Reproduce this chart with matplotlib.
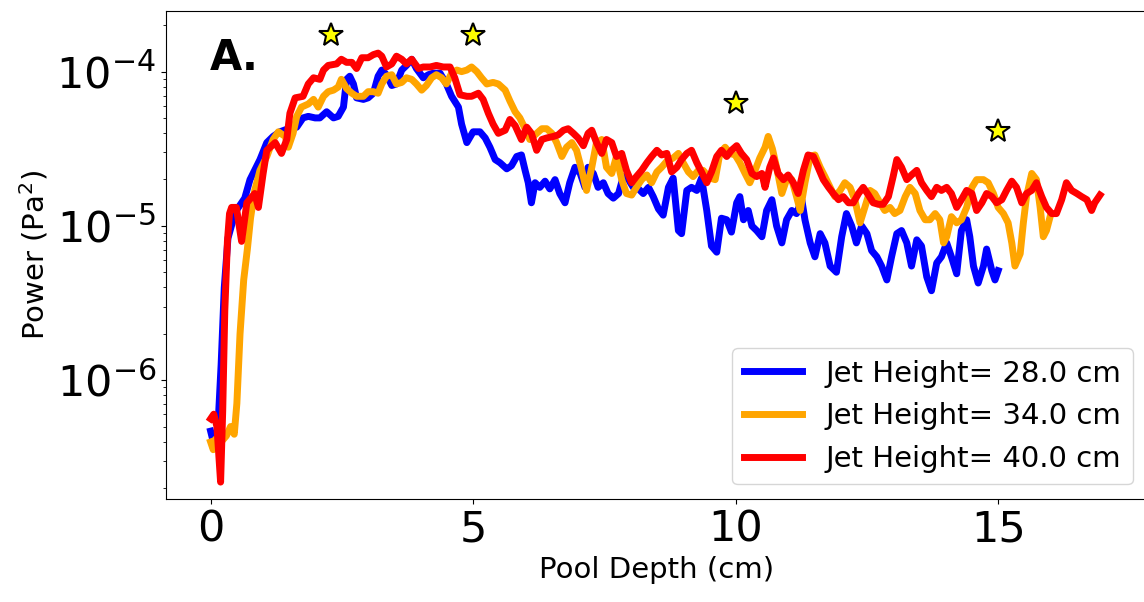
import numpy as np
import matplotlib
matplotlib.use("Agg")
import matplotlib.pyplot as plt

# Pool depth (cm) and log10 of spectral power (Pa^2) for each jet height
depth_28 = [0.00, 0.08, 0.14, 0.20, 0.26, 0.33, 0.42, 0.49, 0.55, 0.65, 0.75, 0.94, 1.07, 1.19, 1.32,
            1.48, 1.64, 1.76, 1.86, 1.99, 2.08, 2.21, 2.34, 2.43, 2.53, 2.59, 2.65, 2.72, 2.78, 2.91,
            3.00, 3.10, 3.19, 3.26, 3.35, 3.45, 3.54, 3.64, 3.73, 3.83, 3.92, 4.05, 4.15, 4.24, 4.37,
            4.49, 4.59, 4.72, 4.78, 4.88, 5.00, 5.13, 5.23, 5.32, 5.42, 5.51, 5.64, 5.73, 5.83, 5.92,
            5.99, 6.05, 6.11, 6.18, 6.27, 6.37, 6.46, 6.56, 6.65, 6.75, 6.84, 6.94, 7.04, 7.13, 7.19,
            7.29, 7.38, 7.48, 7.57, 7.67, 7.77, 7.86, 7.96, 8.05, 8.15, 8.24, 8.34, 8.43, 8.53, 8.62,
            8.72, 8.81, 8.91, 8.97, 9.07, 9.16, 9.26, 9.35, 9.45, 9.54, 9.64, 9.73, 9.83, 9.92, 10.02,
            10.08, 10.15, 10.24, 10.31, 10.40, 10.50, 10.59, 10.69, 10.78, 10.88, 10.97, 11.07, 11.16,
            11.26, 11.32, 11.42, 11.51, 11.61, 11.70, 11.80, 11.92, 12.02, 12.11, 12.21, 12.30, 12.40,
            12.50, 12.59, 12.69, 12.78, 12.88, 12.97, 13.07, 13.16, 13.26, 13.35, 13.45, 13.54, 13.64,
            13.73, 13.83, 13.92, 14.02, 14.11, 14.21, 14.30, 14.40, 14.46, 14.53, 14.62, 14.72, 14.78,
            14.88, 14.94, 15.00]
logp_28 = [-6.33, -6.44, -6.30, -5.90, -5.40, -5.08, -4.97, -4.90, -4.87, -4.82, -4.70, -4.57, -4.46,
           -4.42, -4.39, -4.37, -4.36, -4.30, -4.29, -4.30, -4.30, -4.26, -4.30, -4.29, -4.23, -4.05,
           -4.03, -4.08, -4.17, -4.18, -4.17, -4.14, -4.03, -3.99, -4.02, -4.09, -4.08, -3.99, -3.96,
           -3.92, -3.98, -4.04, -4.02, -4.01, -4.01, -4.08, -4.16, -4.23, -4.34, -4.46, -4.39, -4.39,
           -4.43, -4.49, -4.57, -4.59, -4.63, -4.61, -4.55, -4.54, -4.64, -4.72, -4.85, -4.72, -4.75,
           -4.71, -4.76, -4.70, -4.79, -4.85, -4.72, -4.62, -4.66, -4.75, -4.62, -4.66, -4.75, -4.72,
           -4.79, -4.82, -4.79, -4.68, -4.70, -4.75, -4.76, -4.79, -4.75, -4.81, -4.89, -4.93, -4.75,
           -4.69, -5.03, -5.05, -4.77, -4.75, -4.77, -4.69, -4.90, -5.13, -5.17, -4.95, -4.96, -5.04,
           -4.85, -4.81, -4.96, -4.90, -5.00, -5.03, -5.07, -4.90, -4.83, -5.00, -5.11, -4.96, -4.90,
           -4.92, -4.83, -4.96, -5.11, -5.20, -5.05, -5.11, -5.26, -5.30, -5.07, -4.92, -5.00, -5.11,
           -5.00, -5.05, -5.16, -5.20, -5.26, -5.35, -5.20, -5.05, -5.03, -5.11, -5.26, -5.09, -5.13,
           -5.33, -5.42, -5.24, -5.20, -5.11, -5.20, -5.31, -5.03, -4.96, -5.07, -5.26, -5.37, -5.26,
           -5.15, -5.29, -5.35, -5.29]

depth_34 = [0.00, 0.05, 0.10, 0.20, 0.30, 0.38, 0.45, 0.50, 0.56, 0.63, 0.70, 0.76, 0.84, 0.94, 1.07,
            1.19, 1.29, 1.42, 1.48, 1.57, 1.64, 1.73, 1.86, 1.96, 2.05, 2.15, 2.24, 2.34, 2.43, 2.49,
            2.59, 2.69, 2.78, 2.91, 3.00, 3.10, 3.19, 3.26, 3.35, 3.45, 3.54, 3.64, 3.73, 3.83, 3.92,
            4.02, 4.11, 4.21, 4.30, 4.40, 4.49, 4.59, 4.69, 4.78, 4.88, 4.97, 5.07, 5.16, 5.26, 5.38,
            5.48, 5.61, 5.70, 5.80, 5.89, 5.99, 6.08, 6.21, 6.31, 6.40, 6.50, 6.59, 6.69, 6.78, 6.88,
            6.97, 7.07, 7.16, 7.26, 7.35, 7.45, 7.54, 7.64, 7.73, 7.83, 7.92, 8.02, 8.11, 8.21, 8.31,
            8.40, 8.50, 8.59, 8.69, 8.81, 8.91, 9.00, 9.10, 9.19, 9.29, 9.38, 9.51, 9.61, 9.70, 9.80,
            9.89, 9.99, 10.08, 10.18, 10.27, 10.37, 10.46, 10.56, 10.62, 10.70, 10.78, 10.88, 10.97,
            11.07, 11.16, 11.23, 11.32, 11.42, 11.51, 11.61, 11.70, 11.80, 11.89, 11.99, 12.08, 12.18,
            12.27, 12.37, 12.46, 12.56, 12.65, 12.75, 12.84, 12.94, 13.03, 13.13, 13.23, 13.32, 13.42,
            13.51, 13.61, 13.70, 13.80, 13.89, 13.96, 14.02, 14.11, 14.21, 14.30, 14.40, 14.50, 14.59,
            14.72, 14.81, 14.91, 15.00, 15.10, 15.19, 15.26, 15.32, 15.42, 15.48, 15.54, 15.64, 15.73,
            15.80, 15.86, 15.92, 15.99]
logp_34 = [-6.40, -6.45, -6.38, -6.40, -6.36, -6.30, -6.35, -6.15, -5.70, -5.35, -5.15, -4.95, -4.77,
           -4.64, -4.55, -4.44, -4.39, -4.42, -4.49, -4.40, -4.29, -4.23, -4.21, -4.18, -4.23, -4.16,
           -4.13, -4.12, -4.10, -4.05, -4.11, -4.14, -4.16, -4.16, -4.13, -4.13, -4.14, -4.08, -4.03,
           -4.02, -4.08, -4.07, -4.04, -4.05, -4.08, -4.12, -4.09, -4.04, -4.02, -4.04, -4.08, -4.01,
           -3.99, -4.00, -3.99, -3.97, -4.00, -4.04, -4.08, -4.07, -4.08, -4.12, -4.19, -4.26, -4.30,
           -4.37, -4.44, -4.40, -4.37, -4.37, -4.40, -4.46, -4.55, -4.49, -4.46, -4.51, -4.64, -4.77,
           -4.62, -4.46, -4.44, -4.62, -4.66, -4.55, -4.70, -4.79, -4.80, -4.75, -4.70, -4.67, -4.72,
           -4.65, -4.62, -4.58, -4.56, -4.53, -4.59, -4.65, -4.68, -4.64, -4.64, -4.69, -4.70, -4.53,
           -4.49, -4.53, -4.54, -4.59, -4.66, -4.72, -4.64, -4.56, -4.49, -4.42, -4.50, -4.62, -4.79,
           -4.70, -4.70, -4.81, -4.90, -4.72, -4.55, -4.54, -4.62, -4.68, -4.75, -4.81, -4.77, -4.72,
           -4.75, -4.83, -4.98, -4.88, -4.77, -4.79, -4.85, -4.90, -4.88, -4.92, -4.90, -4.81, -4.75,
           -4.79, -4.90, -4.96, -4.96, -4.92, -4.96, -5.11, -5.07, -4.94, -4.98, -4.96, -4.88, -4.75,
           -4.70, -4.70, -4.72, -4.79, -4.88, -4.92, -4.98, -5.11, -5.26, -5.18, -4.98, -4.81, -4.66,
           -4.70, -4.88, -5.07, -5.03, -4.94]

depth_40 = [0.00, 0.06, 0.12, 0.19, 0.23, 0.27, 0.32, 0.36, 0.40, 0.49, 0.59, 0.69, 0.84, 0.91, 1.00,
            1.07, 1.23, 1.35, 1.45, 1.51, 1.61, 1.76, 1.86, 1.96, 2.08, 2.15, 2.24, 2.40, 2.49, 2.59,
            2.69, 2.78, 2.88, 3.00, 3.10, 3.19, 3.26, 3.35, 3.45, 3.54, 3.64, 3.73, 3.83, 3.96, 4.05,
            4.18, 4.30, 4.43, 4.56, 4.65, 4.75, 4.88, 4.97, 5.10, 5.19, 5.29, 5.38, 5.48, 5.61, 5.70,
            5.80, 5.92, 6.02, 6.11, 6.21, 6.31, 6.40, 6.53, 6.62, 6.72, 6.81, 6.91, 7.00, 7.10, 7.19,
            7.26, 7.35, 7.45, 7.54, 7.64, 7.73, 7.83, 7.92, 8.02, 8.11, 8.21, 8.31, 8.40, 8.50, 8.59,
            8.69, 8.78, 8.88, 8.97, 9.07, 9.16, 9.26, 9.35, 9.45, 9.54, 9.64, 9.73, 9.83, 9.92, 10.02,
            10.11, 10.21, 10.31, 10.40, 10.50, 10.56, 10.65, 10.72, 10.81, 10.91, 11.00, 11.10, 11.19,
            11.29, 11.38, 11.48, 11.57, 11.67, 11.77, 11.86, 11.96, 12.05, 12.15, 12.24, 12.34, 12.43,
            12.53, 12.62, 12.72, 12.81, 12.91, 13.00, 13.07, 13.16, 13.26, 13.35, 13.45, 13.54, 13.64,
            13.73, 13.83, 13.92, 14.02, 14.11, 14.21, 14.30, 14.40, 14.50, 14.59, 14.69, 14.78, 14.88,
            14.97, 15.07, 15.16, 15.26, 15.35, 15.45, 15.54, 15.64, 15.73, 15.83, 15.92, 16.02, 16.11,
            16.21, 16.30, 16.40, 16.50, 16.59, 16.69, 16.78, 16.84, 16.94]
logp_40 = [-6.25, -6.22, -6.30, -6.66, -6.20, -5.55, -5.10, -4.92, -4.88, -4.88, -5.10, -4.85, -4.79,
           -4.88, -4.66, -4.51, -4.46, -4.53, -4.44, -4.27, -4.17, -4.16, -4.08, -4.04, -4.05, -3.99,
           -3.96, -3.95, -3.92, -3.94, -3.94, -3.98, -3.91, -3.91, -3.89, -3.88, -3.90, -3.97, -3.95,
           -3.90, -3.92, -3.95, -3.92, -3.98, -3.97, -3.97, -3.96, -3.97, -3.97, -4.04, -4.15, -4.16,
           -4.16, -4.14, -4.18, -4.27, -4.34, -4.40, -4.38, -4.31, -4.35, -4.44, -4.36, -4.40, -4.51,
           -4.44, -4.43, -4.42, -4.41, -4.38, -4.37, -4.40, -4.43, -4.48, -4.40, -4.38, -4.46, -4.53,
           -4.44, -4.46, -4.55, -4.53, -4.64, -4.72, -4.68, -4.64, -4.59, -4.55, -4.51, -4.54, -4.53,
           -4.65, -4.62, -4.57, -4.53, -4.51, -4.59, -4.65, -4.72, -4.65, -4.55, -4.51, -4.55, -4.51,
           -4.48, -4.53, -4.57, -4.66, -4.68, -4.66, -4.75, -4.62, -4.56, -4.66, -4.70, -4.67, -4.72,
           -4.79, -4.64, -4.54, -4.55, -4.62, -4.70, -4.75, -4.79, -4.83, -4.81, -4.85, -4.85, -4.79,
           -4.75, -4.80, -4.85, -4.86, -4.86, -4.81, -4.68, -4.57, -4.62, -4.70, -4.67, -4.64, -4.72,
           -4.77, -4.81, -4.75, -4.77, -4.75, -4.79, -4.88, -4.83, -4.77, -4.79, -4.90, -4.85, -4.79,
           -4.81, -4.85, -4.83, -4.77, -4.71, -4.75, -4.85, -4.79, -4.77, -4.72, -4.81, -4.88, -4.92,
           -4.92, -4.83, -4.72, -4.77, -4.79, -4.81, -4.83, -4.90, -4.85, -4.80]

jet_heights = [28.0, 34.0, 40.0]
line_colors = ["blue", "orange", "red"]

# Star markers flagging notable depths
star_depth = [2.3, 5.0, 10.0, 15.0]
star_power = [1.73e-4, 1.73e-4, 6.3e-5, 4.1e-5]

fig = plt.figure(figsize=(11.44, 6.02), dpi=100)
ax = fig.add_axes([0.1451, 0.1711, 0.8582, 0.8106])

series = [(depth_28, logp_28), (depth_34, logp_34), (depth_40, logp_40)]
for (d, lp), h, c in zip(series, jet_heights, line_colors):
    ax.plot(d, 10.0 ** np.asarray(lp), color=c, lw=5, label=f"Jet Height= {h} cm")

ax.plot(star_depth, star_power, linestyle="none", marker="*", markersize=18,
        markerfacecolor="yellow", markeredgecolor="black", markeredgewidth=1.5)

ax.set_yscale("log")
ax.set_xlim(-0.85, 17.85)
ax.set_ylim(1.70e-7, 2.47e-4)
ax.set_xticks([0, 5, 10, 15])
ax.tick_params(axis="both", which="major", labelsize=31)
ax.set_xlabel("Pool Depth (cm)", fontsize=21)
ax.set_ylabel("Power (Pa$^2$)", fontsize=21)

ax.text(0.045, 0.879, "A.", transform=ax.transAxes, fontsize=30,
        fontweight="bold", va="baseline", ha="left")

ax.legend(loc="lower right", fontsize=21)

fig.savefig("out.png", dpi=100)
